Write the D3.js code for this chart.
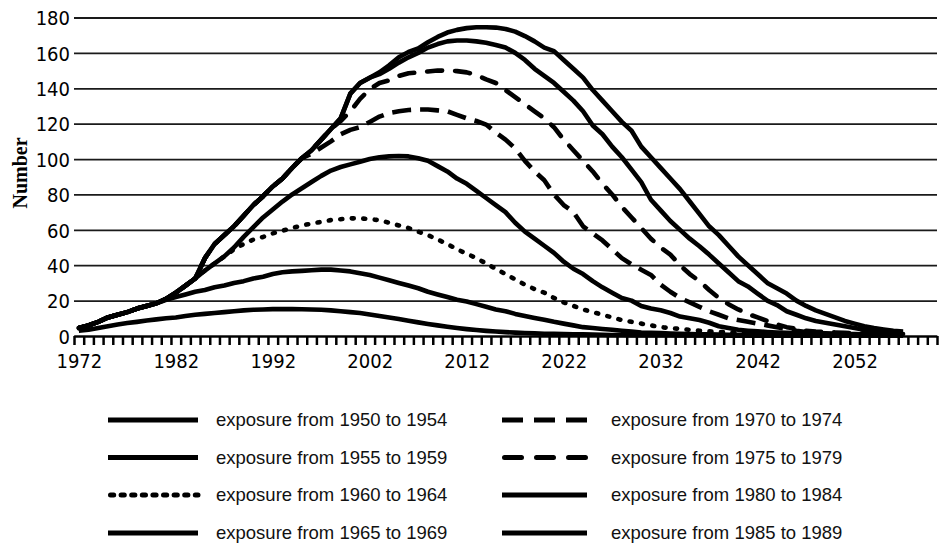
<!DOCTYPE html>
<html>
<head>
<meta charset="utf-8">
<script src="https://cdn.jsdelivr.net/npm/d3@7"></script>
<style>
  html, body { margin: 0; padding: 0; background: #fff; }
  svg { display: block; }
</style>
</head>
<body>
<svg id="chart" width="943" height="550"></svg>
<script>
// ---- categories (one per year) ----
const years = [
  1972, 1973, 1974, 1975, 1976, 1977, 1978, 1979, 1980, 1981,
  1982, 1983, 1984, 1985, 1986, 1987, 1988, 1989, 1990, 1991,
  1992, 1993, 1994, 1995, 1996, 1997, 1998, 1999, 2000, 2001,
  2002, 2003, 2004, 2005, 2006, 2007, 2008, 2009, 2010, 2011,
  2012, 2013, 2014, 2015, 2016, 2017, 2018, 2019, 2020, 2021,
  2022, 2023, 2024, 2025, 2026, 2027, 2028, 2029, 2030, 2031,
  2032, 2033, 2034, 2035, 2036, 2037, 2038, 2039, 2040, 2041,
  2042, 2043, 2044, 2045, 2046, 2047, 2048, 2049, 2050, 2051,
  2052, 2053, 2054, 2055, 2056, 2057
];

// ---- series values (cumulative by exposure period) ----
const exp1950 = [
  3, 3.5, 4.5, 5.5, 6.5, 7.3, 8, 8.8, 9.4, 10,
  10.5, 11.3, 12, 12.5, 13, 13.5, 14, 14.5, 14.8, 15,
  15.2, 15.2, 15.2, 15.1, 15, 14.8, 14.5, 14, 13.5, 13,
  12.2, 11.3, 10.5, 9.6, 8.6, 7.7, 6.8, 6, 5.2, 4.5,
  3.9, 3.4, 2.9, 2.5, 2.2, 1.9, 1.7, 1.5, 1.3, 1.2,
  1.1, 1, 0.9, 0.8, 0.7, 0.6, 0.6, 0.5, 0.5, 0.4,
  0.4, 0.4, 0.3, 0.3, 0.3, 0.3, 0.2, 0.2, 0.2, 0.2,
  0.2, 0.1, 0.1, 0.1, 0.1, 0.1, 0.1, 0.1, 0.1, 0.1,
  0.1, 0.1, 0.1, 0.1, 0.1, 0.1
];
const exp1955 = [
  4.5, 6, 8, 10.5, 12, 13.5, 15.5, 17, 18.5, 20.5,
  22, 23.5, 25, 26, 27.5, 28.5, 30, 31, 32.5, 33.5,
  35, 36, 36.5, 36.8, 37.2, 37.5, 37.5, 37, 36.5, 35.5,
  34.5, 33, 31.5, 30, 28.5, 27, 25, 23.5, 22, 20.5,
  19.5, 18, 16.5, 15, 14, 12.5, 11.3, 10.2, 9.2, 8,
  7, 6, 5, 4.5, 4, 3.5, 3, 2.5, 2, 1.8,
  1.6, 1.4, 1.2, 1.1, 1, 0.9, 0.8, 0.7, 0.7, 0.6,
  0.6, 0.5, 0.5, 0.5, 0.4, 0.4, 0.4, 0.4, 0.3, 0.3,
  0.3, 0.3, 0.3, 0.3, 0.2, 0.2
];
const exp1960 = [
  4.5, 6, 8, 10.5, 12, 13.5, 15.5, 17, 18.5, 21,
  24.5, 28.5, 32.5, 37, 41, 45, 49, 52, 54.5, 56,
  58, 59.5, 61, 62.5, 63.5, 64.5, 65.5, 66, 66.5, 66.5,
  66, 65.5, 64, 62.5, 61, 59, 57, 54.5, 52, 49,
  46.5, 44, 41, 38, 35, 32, 29, 26.5, 24.5, 21.5,
  19, 17, 15, 13.5, 12, 10.5, 9, 8, 7, 6,
  5, 4.5, 4, 3.5, 3, 2.6, 2.3, 2, 1.8, 1.6,
  1.4, 1.3, 1.2, 1.1, 1, 0.9, 0.8, 0.8, 0.7, 0.7,
  0.6, 0.6, 0.5, 0.5, 0.5, 0.4
];
const exp1965 = [
  4.5, 6, 8, 10.5, 12, 13.5, 15.5, 17, 18.5, 21,
  24.5, 28.5, 32.5, 37, 41, 45, 50, 56, 61.5, 67,
  71.5, 76, 80, 83.5, 87, 90.5, 93.5, 95.5, 97, 98.5,
  100, 101, 101.5, 101.7, 101.5, 100.5, 99, 96, 93, 89,
  86, 82, 78, 74, 70, 64, 59, 55, 51, 47,
  42, 38, 35, 31, 27.5, 24.5, 21.5, 20, 17, 15.5,
  14.5, 13, 11, 10, 9, 7.5, 5.5, 4.5, 3.5, 3,
  2.6, 2.3, 2, 1.8, 1.6, 1.4, 1.3, 1.2, 1.1, 1,
  0.9, 0.8, 0.8, 0.7, 0.7, 0.6
];
const exp1970 = [
  4.5, 6, 8, 10.5, 12, 13.5, 15.5, 17, 18.5, 21,
  24.5, 28.5, 32.5, 44, 52, 57, 62, 68, 74, 79,
  84.5, 89, 95, 100.5, 103, 106.5, 110, 114, 116.5, 118,
  121, 124, 126, 127, 127.7, 128, 128, 127.5, 127, 125,
  123, 121.5, 119.5, 115, 111, 106, 99, 93, 88, 80,
  74, 70, 62, 58, 54, 49, 44, 40.5, 37.5, 34.5,
  29, 25, 21.5, 19, 16.5, 14, 12, 10, 9, 8,
  7, 6, 5, 4, 3, 2.2, 1.8, 1.5, 1.3, 1.2,
  1.1, 1, 0.9, 0.9, 0.8, 0.8
];
const exp1975 = [
  4.5, 6, 8, 10.5, 12, 13.5, 15.5, 17, 18.5, 21,
  24.5, 28.5, 32.5, 44, 52, 57, 62, 68, 74, 79,
  84.5, 89, 95, 100.5, 105, 111, 117, 121.5, 127, 134,
  139.5, 143, 144.5, 147, 148.5, 149, 149.5, 150, 150, 149.7,
  149, 147.5, 145, 143, 139, 135, 131, 127, 123, 118,
  111, 105, 99, 93, 86, 80, 73, 67, 61, 55,
  50, 46, 40, 35, 31, 26, 21.5, 18, 15, 12.5,
  10.5, 8.5, 6.5, 5, 4, 3, 2.5, 2.2, 2, 1.8,
  1.6, 1.5, 1.4, 1.3, 1.2, 1.1
];
const exp1980 = [
  4.5, 6, 8, 10.5, 12, 13.5, 15.5, 17, 18.5, 21,
  24.5, 28.5, 32.5, 44, 52, 57, 62, 68, 74, 79,
  84.5, 89, 95, 100.5, 105, 111, 117, 123, 137, 143,
  146, 148, 151, 154.5, 157.5, 160, 163, 165, 166.5, 167,
  167, 166.5, 165.7, 164.5, 163, 160, 156, 151, 147, 143,
  138, 133, 127, 119, 114, 107, 101, 94, 87, 77,
  71, 65, 60, 55, 50.7, 46, 41, 36, 31, 28,
  24, 20, 17.5, 14, 12, 10, 8.5, 7.5, 6.5, 5.5,
  4.5, 3.5, 3, 2.5, 2, 1.8
];
const exp1985 = [
  4.5, 6, 8, 10.5, 12, 13.5, 15.5, 17, 18.5, 21,
  24.5, 28.5, 32.5, 44, 52, 57, 62, 68, 74, 79,
  84.5, 89, 95, 100.5, 105, 111, 117, 123, 137, 143,
  146, 149, 153, 157.5, 160.5, 162.5, 166, 169, 171.5, 173,
  174, 174.5, 174.5, 174.3, 173.5, 172, 169.5, 166.5, 163, 161,
  156, 151, 146, 139, 133, 127, 121, 116, 107, 101,
  95, 89, 83, 76, 69, 62, 57, 51, 45, 40,
  35, 30, 27, 24, 20, 17, 14.5, 12.5, 10.5, 8.5,
  7, 5.5, 4.5, 3.7, 3, 2.5
];

// ---- tick labels ----
const yTicks = [0, 20, 40, 60, 80, 100, 120, 140, 160, 180];
const xLabelYears = [1972, 1982, 1992, 2002, 2012, 2022, 2032, 2042, 2052];
const seriesLabels = [
  "exposure from 1950 to 1954",
  "exposure from 1955 to 1959",
  "exposure from 1960 to 1964",
  "exposure from 1965 to 1969",
  "exposure from 1970 to 1974",
  "exposure from 1975 to 1979",
  "exposure from 1980 to 1984",
  "exposure from 1985 to 1989"
];
const seriesValues = [exp1950, exp1955, exp1960, exp1965, exp1970, exp1975, exp1980, exp1985];

// ---- drawing styles per series ----
const lineStyles = [
  { dash: null, cap: "butt" },
  { dash: null, cap: "butt" },
  { dash: "2,9.5", cap: "round", legendDash: "3.2,7.4" },
  { dash: null, cap: "butt" },
  { dash: "19,9", cap: "butt", legendDash: "21,11" },
  { dash: "15,13", cap: "round", legendDash: "17,15" },
  { dash: null, cap: "butt" },
  { dash: null, cap: "butt" }
];

const tickFont = "'DejaVu Sans Condensed', 'DejaVu Sans', Verdana, sans-serif";
const legendFont = "'Liberation Sans', Arial, Helvetica, sans-serif";

const svg = d3.select("#chart");
svg.append("rect").attr("width", 943).attr("height", 550).attr("fill", "#fff");

const plotLeft = 74, plotRight = 937, plotTop = 17.5, plotBottom = 336;

// year categories: each year occupies one band, ticks sit on band edges
const x = d3.scaleLinear()
  .domain([years[0] - 0.5, 2060.5])
  .range([plotLeft, plotRight]);
const y = d3.scaleLinear()
  .domain([0, 180])
  .range([plotBottom, plotTop]);

// horizontal gridlines and value labels
svg.append("g")
  .attr("transform", `translate(${plotLeft},0)`)
  .call(d3.axisLeft(y).tickValues(yTicks).tickSize(-(plotRight - plotLeft)).tickPadding(4))
  .call(g => g.select(".domain").remove())
  .call(g => g.selectAll(".tick line").attr("stroke", "#1a1a1a").attr("stroke-width", 1.8))
  .call(g => g.selectAll(".tick text")
    .attr("font-family", tickFont)
    .style("font-stretch", "condensed")
    .attr("font-size", 20)
    .attr("fill", "#000")
    .attr("dy", "0.36em"));

// category tick marks along the bottom
const bandEdges = d3.range(x.domain()[0], x.domain()[1] + 0.01, 1);
svg.append("g")
  .attr("transform", `translate(0,${plotBottom})`)
  .call(d3.axisBottom(x).tickValues(bandEdges).tickSize(9).tickSizeOuter(0).tickFormat(""))
  .call(g => g.select(".domain").attr("stroke", "#000").attr("stroke-width", 2.2))
  .call(g => g.selectAll(".tick line").attr("stroke", "#000").attr("stroke-width", 2.5));

// year labels every ten categories
svg.append("g")
  .attr("transform", `translate(0,${plotBottom})`)
  .call(d3.axisBottom(x).tickValues(xLabelYears).tickSize(0).tickPadding(18).tickFormat(d3.format("d")))
  .call(g => g.select(".domain").remove())
  .call(g => g.selectAll(".tick text")
    .attr("font-family", tickFont)
    .style("font-stretch", "condensed")
    .attr("font-size", 20)
    .attr("fill", "#000"));

// axis title
svg.append("text")
  .attr("transform", "translate(27,173) rotate(-90)")
  .attr("text-anchor", "middle")
  .attr("font-family", "'Liberation Serif', 'Times New Roman', serif")
  .attr("font-weight", "bold")
  .attr("font-size", 20)
  .attr("fill", "#000")
  .text("Number");

// series lines
const line = d3.line()
  .x((d, i) => x(years[i]))
  .y(d => y(d))
  .curve(d3.curveLinear);

const lines = svg.append("g").attr("fill", "none").attr("stroke", "#000");
seriesValues.forEach((vals, i) => {
  const st = lineStyles[i];
  lines.append("path")
    .datum(vals)
    .attr("d", line)
    .attr("stroke-width", 4.6)
    .attr("stroke-linejoin", "round")
    .attr("stroke-linecap", st.cap)
    .attr("stroke-dasharray", st.dash);
});

// legend: two columns of four entries
const legendRows = [420, 457.5, 495, 533];
const legendCols = [
  { x1: 108, x2: 198, tx: 216 },
  { x1: 502, x2: 587, tx: 611 }
];
const legend = svg.append("g");
seriesLabels.forEach((label, i) => {
  const col = legendCols[Math.floor(i / 4)];
  const ry = legendRows[i % 4];
  const st = lineStyles[i];
  legend.append("line")
    .attr("x1", col.x1 + (st.cap === "round" ? 2.5 : 0))
    .attr("x2", col.x2)
    .attr("y1", ry).attr("y2", ry)
    .attr("stroke", "#000")
    .attr("stroke-width", 5)
    .attr("stroke-linecap", st.cap)
    .attr("stroke-dasharray", st.legendDash || null);
  legend.append("text")
    .attr("x", col.tx)
    .attr("y", ry)
    .attr("dy", "0.35em")
    .attr("font-family", legendFont)
    .attr("font-size", 18.5)
    .attr("fill", "#111")
    .text(label);
});
</script>
</body>
</html>
